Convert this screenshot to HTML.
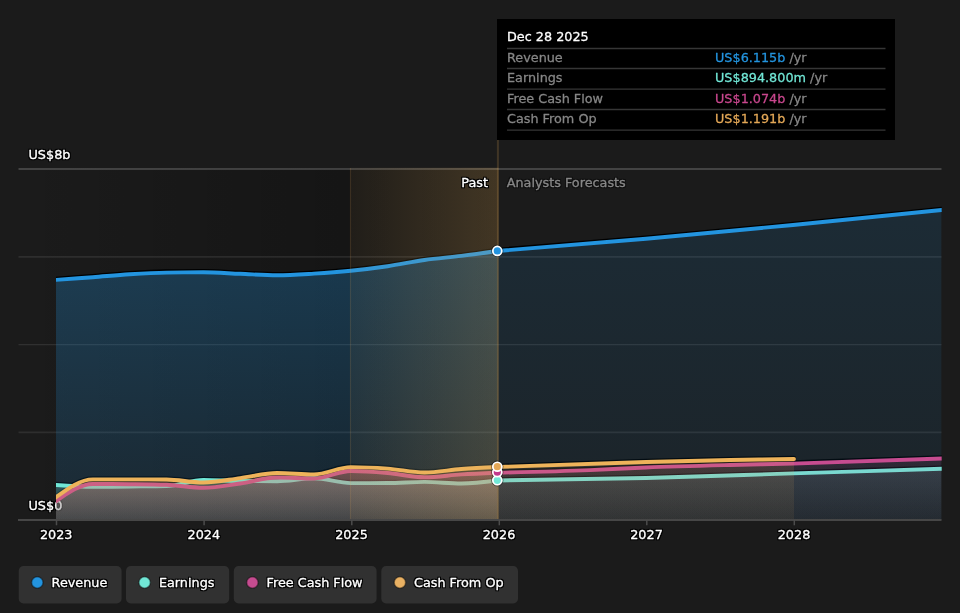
<!DOCTYPE html>
<html lang="en">
<head>
<meta charset="utf-8">
<title>Earnings and Revenue Growth</title>
<style>
html,body{margin:0;padding:0;background:#1b1b1b;}
body{width:960px;height:613px;overflow:hidden;position:relative;font-family:"DejaVu Sans","Liberation Sans",sans-serif;}
svg{position:absolute;left:0;top:0;display:block;}
svg text{font-family:"DejaVu Sans","Liberation Sans",sans-serif;font-size:12.8px;stroke-linejoin:round;}
svg{stroke-width:0.33px;}
.sh{stroke:#000;stroke-opacity:1;stroke-width:4.5px;transform:translate(0,-1px);}
.w{fill:#fff;stroke:#fff;}
.g{fill:#878787;stroke:#878787;}
</style>
</head>
<body>
<svg width="960" height="613" viewBox="0 0 960 613">
  <defs>
    <linearGradient id="gPast" x1="0" y1="0" x2="1" y2="0">
      <stop offset="0" stop-color="#000" stop-opacity="0"/>
      <stop offset="1" stop-color="#000" stop-opacity="0.33"/>
    </linearGradient>
    <linearGradient id="gHi" x1="0" y1="0" x2="1" y2="0">
      <stop offset="0" stop-color="#e4b060" stop-opacity="0.055"/>
      <stop offset="1" stop-color="#e4b060" stop-opacity="0.228"/>
    </linearGradient>
    <linearGradient id="gRevP" x1="0" y1="0" x2="0" y2="1">
      <stop offset="0" stop-color="#2394df" stop-opacity="0.29"/>
      <stop offset="1" stop-color="#2394df" stop-opacity="0.12"/>
    </linearGradient>
    <linearGradient id="gRevF" x1="0" y1="0" x2="0" y2="1">
      <stop offset="0" stop-color="#2394df" stop-opacity="0.135"/>
      <stop offset="1" stop-color="#2394df" stop-opacity="0.068"/>
    </linearGradient>
    <linearGradient id="gEarnP" x1="0" y1="0" x2="0" y2="1">
      <stop offset="0" stop-color="#71e7d6" stop-opacity="0.265"/>
      <stop offset="1" stop-color="#71e7d6" stop-opacity="0.09"/>
    </linearGradient>
    <linearGradient id="gEarnF" x1="0" y1="0" x2="0" y2="1">
      <stop offset="0" stop-color="#71e7d6" stop-opacity="0.127"/>
      <stop offset="1" stop-color="#71e7d6" stop-opacity="0.031"/>
    </linearGradient>
    <linearGradient id="gFcfP" x1="0" y1="0" x2="0" y2="1">
      <stop offset="0" stop-color="#c64c90" stop-opacity="0.265"/>
      <stop offset="1" stop-color="#c64c90" stop-opacity="0.093"/>
    </linearGradient>
    <linearGradient id="gFcfF" x1="0" y1="0" x2="0" y2="1">
      <stop offset="0" stop-color="#c64c90" stop-opacity="0.114"/>
      <stop offset="1" stop-color="#c64c90" stop-opacity="0.037"/>
    </linearGradient>
    <linearGradient id="gCfoP" x1="0" y1="0" x2="0" y2="1">
      <stop offset="0" stop-color="#e4a857" stop-opacity="0.265"/>
      <stop offset="1" stop-color="#e4a857" stop-opacity="0.114"/>
    </linearGradient>
    <linearGradient id="gCfoF" x1="0" y1="0" x2="0" y2="1">
      <stop offset="0" stop-color="#e4a857" stop-opacity="0.136"/>
      <stop offset="1" stop-color="#e4a857" stop-opacity="0.068"/>
    </linearGradient>
    <filter id="halo" x="-10%" y="-40%" width="120%" height="180%" color-interpolation-filters="sRGB">
      <feMorphology in="SourceAlpha" operator="dilate" radius="1.2" result="d"/>
      <feGaussianBlur in="d" stdDeviation="0.5" result="b"/>
      <feFlood flood-color="#000" flood-opacity="1"/>
      <feComposite in2="b" operator="in" result="h"/>
      <feMerge><feMergeNode in="h"/><feMergeNode in="SourceGraphic"/></feMerge>
    </filter>
    <filter id="halo2" x="-10%" y="-40%" width="120%" height="180%" color-interpolation-filters="sRGB">
      <feMorphology in="SourceAlpha" operator="dilate" radius="1" result="d"/>
      <feGaussianBlur in="d" stdDeviation="0.5" result="b"/>
      <feFlood flood-color="#000" flood-opacity="0.45"/>
      <feComposite in2="b" operator="in" result="h"/>
      <feMerge><feMergeNode in="h"/><feMergeNode in="SourceGraphic"/></feMerge>
    </filter>
    <clipPath id="clipPlot"><rect x="56" y="140" width="885.7" height="380"/></clipPath>
  </defs>

  <!-- past shading + highlight -->
  <rect x="18" y="168.5" width="480.5" height="351.5" fill="url(#gPast)"/>

  <!-- gridlines -->
  <g stroke="#fff">
    <line x1="18.5" x2="941.5" y1="168.95" y2="168.95" stroke-opacity="0.175" stroke-width="1.9"/>
    <line x1="18.5" x2="941.5" y1="256.9" y2="256.9" stroke-opacity="0.085" stroke-width="1.8"/>
    <line x1="18.5" x2="941.5" y1="344.6" y2="344.6" stroke-opacity="0.095" stroke-width="1.4"/>
    <line x1="18.5" x2="941.5" y1="432.3" y2="432.3" stroke-opacity="0.085" stroke-width="1.8"/>
  </g>

  <!-- y axis labels (under the series) -->
  <g class="w" filter="url(#halo)">
    <text x="28.5" y="159.2">US$8b</text>
    <text x="28.5" y="510.1">US$0</text>
  </g>

  <g clip-path="url(#clipPlot)" fill="none" stroke-width="3.9" stroke-linejoin="round">
    <!-- dark edges under every line -->
    <g class="sh" stroke-linecap="round">
      <path d="M52.00,280.19L56.00,279.90C68.28,279.02,80.57,278.13,92.85,277.20C105.13,276.27,117.42,275.07,129.70,274.30C141.98,273.53,154.27,272.80,166.55,272.60C178.83,272.40,191.12,272.30,203.40,272.30C215.68,272.30,227.97,273.30,240.25,273.80C252.53,274.30,264.82,275.30,277.10,275.30C289.38,275.30,301.67,274.37,313.95,273.60C326.23,272.83,338.52,271.93,350.80,270.70C363.08,269.47,375.37,267.98,387.65,266.20C399.93,264.42,412.22,261.72,424.50,260.00C436.78,258.28,449.07,257.42,461.35,255.90C473.40,254.41,485.45,252.71,497.50,251.00"/><path d="M497.50,251.00C547.00,247.03,596.50,243.06,646.00,238.70C695.00,234.39,744.00,229.76,793.00,225.00C842.50,220.19,892.00,215.10,941.50,210.00L945.50,209.60"/>
      <path d="M52.00,484.80L56.00,485.00C68.28,485.90,80.57,486.80,92.85,486.80C105.13,486.80,117.42,486.62,129.70,486.50C141.98,486.38,154.27,486.37,166.55,486.10C178.83,485.83,191.12,480.00,203.40,480.00C215.68,480.00,227.97,480.87,240.25,481.00C252.53,481.13,264.82,481.20,277.10,481.20C289.38,481.20,301.67,478.30,313.95,478.30C326.23,478.30,338.52,483.10,350.80,483.10C363.08,483.10,375.37,483.07,387.65,483.00C399.93,482.93,412.22,481.90,424.50,481.90C436.78,481.90,449.07,483.50,461.35,483.50C473.40,483.50,485.45,482.00,497.50,480.50"/><path d="M497.50,480.50C547.00,479.85,596.50,479.19,646.00,478.00C695.00,476.82,744.00,474.93,793.00,473.40C842.50,471.85,892.00,470.30,941.50,468.75L945.50,468.62"/>
      <path d="M52.00,503.12L56.00,501.25C68.28,492.62,80.57,484.00,92.85,484.00C105.13,484.00,117.42,484.07,129.70,484.20C141.98,484.33,154.27,484.40,166.55,484.80C178.83,485.20,191.12,487.75,203.40,487.75C215.68,487.75,227.97,485.21,240.25,483.50C252.53,481.79,264.82,477.50,277.10,477.50C289.38,477.50,301.67,478.50,313.95,478.50C326.23,478.50,338.52,471.00,350.80,471.00C363.08,471.00,375.37,471.96,387.65,473.00C399.93,474.04,412.22,477.25,424.50,477.25C436.78,477.25,449.07,475.16,461.35,474.40C473.40,473.65,485.45,473.18,497.50,472.70"/><path d="M497.50,472.70C528.33,472.01,559.17,471.32,590.00,470.10C608.67,469.36,627.33,468.24,646.00,467.50C674.00,466.39,702.00,465.71,730.00,465.00C751.00,464.47,772.00,464.14,793.00,463.60C842.50,462.32,892.00,460.41,941.50,458.50L945.50,458.36"/>
      <path d="M52.00,499.19L56.00,497.25C68.28,488.32,80.57,479.40,92.85,479.40C105.13,479.40,117.42,479.40,129.70,479.40C141.98,479.40,154.27,479.43,166.55,479.50C178.83,479.57,191.12,482.50,203.40,482.50C215.68,482.50,227.97,479.68,240.25,478.10C252.53,476.52,264.82,473.00,277.10,473.00C289.38,473.00,301.67,474.40,313.95,474.40C326.23,474.40,338.52,467.10,350.80,467.10C363.08,467.10,375.37,467.70,387.65,468.60C399.93,469.50,412.22,472.50,424.50,472.50C436.78,472.50,449.07,469.92,461.35,469.00C473.40,468.10,485.45,467.55,497.50,467.00"/><path d="M497.50,467.00C547.00,465.18,596.50,463.35,646.00,462.00C674.00,461.23,702.00,460.54,730.00,460.00C751.33,459.59,772.67,459.30,794.00,459.00"/>
    </g>
    <!-- Revenue -->
    <path d="M56.00,279.90C68.28,279.02,80.57,278.13,92.85,277.20C105.13,276.27,117.42,275.07,129.70,274.30C141.98,273.53,154.27,272.80,166.55,272.60C178.83,272.40,191.12,272.30,203.40,272.30C215.68,272.30,227.97,273.30,240.25,273.80C252.53,274.30,264.82,275.30,277.10,275.30C289.38,275.30,301.67,274.37,313.95,273.60C326.23,272.83,338.52,271.93,350.80,270.70C363.08,269.47,375.37,267.98,387.65,266.20C399.93,264.42,412.22,261.72,424.50,260.00C436.78,258.28,449.07,257.42,461.35,255.90C473.40,254.41,485.45,252.71,497.50,251.00L497.50,520.00L56.00,520.00Z" fill="url(#gRevP)"/>
    <path d="M497.50,251.00C547.00,247.03,596.50,243.06,646.00,238.70C695.00,234.39,744.00,229.76,793.00,225.00C842.50,220.19,892.00,215.10,941.50,210.00L941.50,520.00L497.50,520.00Z" fill="url(#gRevF)"/>
    <path d="M52.00,280.19L56.00,279.90C68.28,279.02,80.57,278.13,92.85,277.20C105.13,276.27,117.42,275.07,129.70,274.30C141.98,273.53,154.27,272.80,166.55,272.60C178.83,272.40,191.12,272.30,203.40,272.30C215.68,272.30,227.97,273.30,240.25,273.80C252.53,274.30,264.82,275.30,277.10,275.30C289.38,275.30,301.67,274.37,313.95,273.60C326.23,272.83,338.52,271.93,350.80,270.70C363.08,269.47,375.37,267.98,387.65,266.20C399.93,264.42,412.22,261.72,424.50,260.00C436.78,258.28,449.07,257.42,461.35,255.90C473.40,254.41,485.45,252.71,497.50,251.00" stroke="#2394df"/>
    <path d="M497.50,251.00C547.00,247.03,596.50,243.06,646.00,238.70C695.00,234.39,744.00,229.76,793.00,225.00C842.50,220.19,892.00,215.10,941.50,210.00L945.50,209.60" stroke="#2394df"/>
    <!-- Earnings -->
    <path d="M56.00,485.00C68.28,485.90,80.57,486.80,92.85,486.80C105.13,486.80,117.42,486.62,129.70,486.50C141.98,486.38,154.27,486.37,166.55,486.10C178.83,485.83,191.12,480.00,203.40,480.00C215.68,480.00,227.97,480.87,240.25,481.00C252.53,481.13,264.82,481.20,277.10,481.20C289.38,481.20,301.67,478.30,313.95,478.30C326.23,478.30,338.52,483.10,350.80,483.10C363.08,483.10,375.37,483.07,387.65,483.00C399.93,482.93,412.22,481.90,424.50,481.90C436.78,481.90,449.07,483.50,461.35,483.50C473.40,483.50,485.45,482.00,497.50,480.50L497.50,520.00L56.00,520.00Z" fill="url(#gEarnP)"/>
    <path d="M497.50,480.50C547.00,479.85,596.50,479.19,646.00,478.00C695.00,476.82,744.00,474.93,793.00,473.40C842.50,471.85,892.00,470.30,941.50,468.75L941.50,520.00L497.50,520.00Z" fill="url(#gEarnF)"/>
    <path d="M52.00,484.80L56.00,485.00C68.28,485.90,80.57,486.80,92.85,486.80C105.13,486.80,117.42,486.62,129.70,486.50C141.98,486.38,154.27,486.37,166.55,486.10C178.83,485.83,191.12,480.00,203.40,480.00C215.68,480.00,227.97,480.87,240.25,481.00C252.53,481.13,264.82,481.20,277.10,481.20C289.38,481.20,301.67,478.30,313.95,478.30C326.23,478.30,338.52,483.10,350.80,483.10C363.08,483.10,375.37,483.07,387.65,483.00C399.93,482.93,412.22,481.90,424.50,481.90C436.78,481.90,449.07,483.50,461.35,483.50C473.40,483.50,485.45,482.00,497.50,480.50" stroke="#71e7d6"/>
    <path d="M497.50,480.50C547.00,479.85,596.50,479.19,646.00,478.00C695.00,476.82,744.00,474.93,793.00,473.40C842.50,471.85,892.00,470.30,941.50,468.75L945.50,468.62" stroke="#71e7d6"/>
    <!-- Free Cash Flow -->
    <path d="M56.00,501.25C68.28,492.62,80.57,484.00,92.85,484.00C105.13,484.00,117.42,484.07,129.70,484.20C141.98,484.33,154.27,484.40,166.55,484.80C178.83,485.20,191.12,487.75,203.40,487.75C215.68,487.75,227.97,485.21,240.25,483.50C252.53,481.79,264.82,477.50,277.10,477.50C289.38,477.50,301.67,478.50,313.95,478.50C326.23,478.50,338.52,471.00,350.80,471.00C363.08,471.00,375.37,471.96,387.65,473.00C399.93,474.04,412.22,477.25,424.50,477.25C436.78,477.25,449.07,475.16,461.35,474.40C473.40,473.65,485.45,473.18,497.50,472.70L497.50,520.00L56.00,520.00Z" fill="url(#gFcfP)"/>
    <path d="M497.50,472.70C528.33,472.01,559.17,471.32,590.00,470.10C608.67,469.36,627.33,468.24,646.00,467.50C674.00,466.39,702.00,465.71,730.00,465.00C751.00,464.47,772.00,464.14,793.00,463.60C842.50,462.32,892.00,460.41,941.50,458.50L941.50,520.00L497.50,520.00Z" fill="url(#gFcfF)"/>
    <path d="M52.00,503.12L56.00,501.25C68.28,492.62,80.57,484.00,92.85,484.00C105.13,484.00,117.42,484.07,129.70,484.20C141.98,484.33,154.27,484.40,166.55,484.80C178.83,485.20,191.12,487.75,203.40,487.75C215.68,487.75,227.97,485.21,240.25,483.50C252.53,481.79,264.82,477.50,277.10,477.50C289.38,477.50,301.67,478.50,313.95,478.50C326.23,478.50,338.52,471.00,350.80,471.00C363.08,471.00,375.37,471.96,387.65,473.00C399.93,474.04,412.22,477.25,424.50,477.25C436.78,477.25,449.07,475.16,461.35,474.40C473.40,473.65,485.45,473.18,497.50,472.70" stroke="#c64c90"/>
    <path d="M497.50,472.70C528.33,472.01,559.17,471.32,590.00,470.10C608.67,469.36,627.33,468.24,646.00,467.50C674.00,466.39,702.00,465.71,730.00,465.00C751.00,464.47,772.00,464.14,793.00,463.60C842.50,462.32,892.00,460.41,941.50,458.50L945.50,458.36" stroke="#c64c90"/>
    <!-- Cash From Op -->
    <path d="M56.00,497.25C68.28,488.32,80.57,479.40,92.85,479.40C105.13,479.40,117.42,479.40,129.70,479.40C141.98,479.40,154.27,479.43,166.55,479.50C178.83,479.57,191.12,482.50,203.40,482.50C215.68,482.50,227.97,479.68,240.25,478.10C252.53,476.52,264.82,473.00,277.10,473.00C289.38,473.00,301.67,474.40,313.95,474.40C326.23,474.40,338.52,467.10,350.80,467.10C363.08,467.10,375.37,467.70,387.65,468.60C399.93,469.50,412.22,472.50,424.50,472.50C436.78,472.50,449.07,469.92,461.35,469.00C473.40,468.10,485.45,467.55,497.50,467.00L497.50,520.00L56.00,520.00Z" fill="url(#gCfoP)"/>
    <path d="M497.50,467.00C547.00,465.18,596.50,463.35,646.00,462.00C674.00,461.23,702.00,460.54,730.00,460.00C751.33,459.59,772.67,459.30,794.00,459.00L794.00,520.00L497.50,520.00Z" fill="url(#gCfoF)"/>
    <path d="M52.00,499.19L56.00,497.25C68.28,488.32,80.57,479.40,92.85,479.40C105.13,479.40,117.42,479.40,129.70,479.40C141.98,479.40,154.27,479.43,166.55,479.50C178.83,479.57,191.12,482.50,203.40,482.50C215.68,482.50,227.97,479.68,240.25,478.10C252.53,476.52,264.82,473.00,277.10,473.00C289.38,473.00,301.67,474.40,313.95,474.40C326.23,474.40,338.52,467.10,350.80,467.10C363.08,467.10,375.37,467.70,387.65,468.60C399.93,469.50,412.22,472.50,424.50,472.50C436.78,472.50,449.07,469.92,461.35,469.00C473.40,468.10,485.45,467.55,497.50,467.00" stroke="#eeb35a"/>
    <path d="M497.50,467.00C547.00,465.18,596.50,463.35,646.00,462.00C674.00,461.23,702.00,460.54,730.00,460.00C751.33,459.59,772.67,459.30,794.00,459.00" stroke="#eeb35a" stroke-linecap="round"/>
  </g>

  <!-- hover highlight (2025 -> 2026) drawn over the series -->
  <rect x="350.5" y="167.8" width="148" height="352.2" fill="url(#gHi)"/>
  <line x1="350.5" x2="350.5" y1="168" y2="520" stroke="#e4a857" stroke-opacity="0.16" stroke-width="1.2"/>
  <line x1="497.9" x2="497.9" y1="140" y2="520" stroke="#e4a857" stroke-opacity="0.19" stroke-width="2"/>

  <!-- axis baseline + ticks -->
  <line x1="18" x2="941.5" y1="520" y2="520" stroke="#464646" stroke-width="1.8"/>
  <g stroke="#4c4c4c" stroke-width="1.5">
    <line x1="56.5" x2="56.5" y1="520" y2="525.3"/>
    <line x1="204.1" x2="204.1" y1="520" y2="525.3"/>
    <line x1="351.8" x2="351.8" y1="520" y2="525.3"/>
    <line x1="499.3" x2="499.3" y1="520" y2="525.3"/>
    <line x1="646.8" x2="646.8" y1="520" y2="525.3"/>
    <line x1="794.3" x2="794.3" y1="520" y2="525.3"/>
  </g>

  <!-- markers -->
  <g fill="none" stroke="#05070a" stroke-opacity="0.5" stroke-width="1">
    <circle cx="497.3" cy="250.9" r="5.7"/>
    <circle cx="497.3" cy="480.3" r="5.7"/>
    <circle cx="497.3" cy="472.2" r="5.7"/>
    <circle cx="497.3" cy="466.7" r="5.7"/>
  </g>
  <g stroke="#fff" stroke-width="1.7">
    <circle cx="497.3" cy="250.9" r="4.45" fill="#2394df"/>
    <circle cx="497.3" cy="480.3" r="4.45" fill="#71e7d6"/>
    <circle cx="497.3" cy="472.2" r="4.45" fill="#c2388c"/>
    <circle cx="497.3" cy="466.7" r="4.45" fill="#e4a857"/>
  </g>

  <!-- x axis labels -->
  <g class="w" filter="url(#halo)">
    <text x="56.2" y="539.2" text-anchor="middle">2023</text>
    <text x="203.85" y="539.2" text-anchor="middle">2024</text>
    <text x="351.5" y="539.2" text-anchor="middle">2025</text>
    <text x="499.0" y="539.2" text-anchor="middle">2026</text>
    <text x="646.5" y="539.2" text-anchor="middle">2027</text>
    <text x="794.0" y="539.2" text-anchor="middle">2028</text>
    <text x="488" y="186.8" text-anchor="end">Past</text>
  </g>
  <text x="506.7" y="186.8" class="g" filter="url(#halo2)">Analysts Forecasts</text>

  <!-- tooltip -->
  <g>
    <rect x="497" y="19" width="398" height="121" fill="#000"/>
    <g stroke="#363636" stroke-width="1.3">
      <line x1="507" x2="885.5" y1="48.5" y2="48.5"/>
      <line x1="507" x2="885.5" y1="68.5" y2="68.5"/>
      <line x1="507" x2="885.5" y1="89.2" y2="89.2"/>
      <line x1="507" x2="885.5" y1="109.5" y2="109.5"/>
      <line x1="507" x2="885.5" y1="130.2" y2="130.2"/>
    </g>
    <g filter="url(#halo)" style="stroke-width:0.28px">
      <text x="507" y="41" class="w">Dec 28 2025</text>
      <g class="g">
        <text x="507" y="62">Revenue</text>
        <text x="507" y="82">Earnings</text>
        <text x="507" y="103">Free Cash Flow</text>
        <text x="507" y="123">Cash From Op</text>
      </g>
      <text x="715" y="62" fill="#2394df" stroke="#2394df">US$6.115b<tspan class="g"> /yr</tspan></text>
      <text x="715" y="82" fill="#71e7d6" stroke="#71e7d6">US$894.800m<tspan class="g"> /yr</tspan></text>
      <text x="715" y="103" fill="#c9478e" stroke="#c9478e">US$1.074b<tspan class="g"> /yr</tspan></text>
      <text x="715" y="123" fill="#e4a857" stroke="#e4a857">US$1.191b<tspan class="g"> /yr</tspan></text>
    </g>
  </g>

  <!-- legend -->
  <g>
    <rect x="18.7" y="566.1" width="102.9" height="37.4" rx="4.8" fill="#313131"/>
    <rect x="126" y="566.1" width="103.2" height="37.4" rx="4.8" fill="#313131"/>
    <rect x="233.8" y="566.1" width="142.8" height="37.4" rx="4.8" fill="#313131"/>
    <rect x="381.3" y="566.1" width="136.7" height="37.4" rx="4.8" fill="#313131"/>
    <g stroke="#0b0b0b" stroke-opacity="0.45" stroke-width="1.5">
      <circle cx="37.3" cy="582.5" r="5.75" fill="#2394df"/>
      <circle cx="144.6" cy="582.5" r="5.75" fill="#71e7d6"/>
      <circle cx="252.4" cy="582.5" r="5.75" fill="#c64c90"/>
      <circle cx="399.9" cy="582.5" r="5.75" fill="#e9b163"/>
    </g>
    <g class="w" filter="url(#halo)">
      <text x="51.6" y="587.4">Revenue</text>
      <text x="158.9" y="587.4">Earnings</text>
      <text x="266.5" y="587.4">Free Cash Flow</text>
      <text x="414" y="587.4">Cash From Op</text>
    </g>
  </g>
</svg>

</body>
</html>
